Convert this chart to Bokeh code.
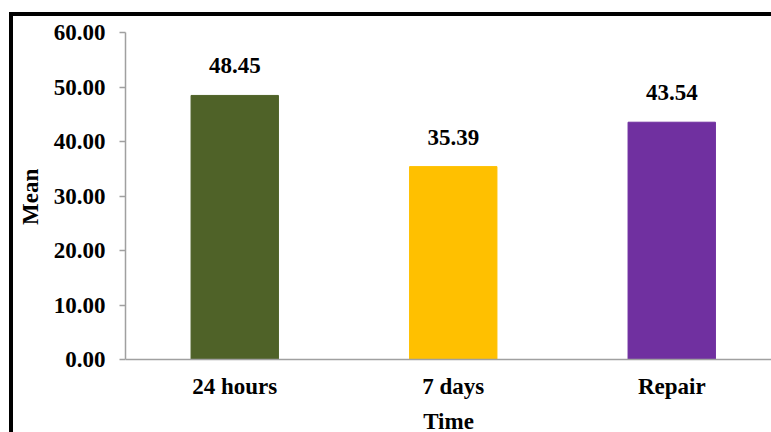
from bokeh.plotting import figure
from bokeh.models import (ColumnDataSource, Range1d, FixedTicker, LabelSet, LinearAxis,
                          Title, InlineStyleSheet)
from bokeh.embed import file_html
from bokeh.resources import INLINE

categories = ["24 hours", "7 days", "Repair"]
means = [48.45, 35.39, 43.54]
colors = ["#4F6228", "#FFC000", "#7030A0"]
y_ticks = [0, 10, 20, 30, 40, 50, 60]
x_title = "Time"
y_title = "Mean"

xs = [i + 1 for i in range(len(categories))]
src = ColumnDataSource(dict(x=xs, top=means, color=colors,
                            label=[f"{m:.2f}" for m in means]))

FONT = "Liberation Serif"
FS = "23px"

# layout in pixels: plot top 32, value-zero line at 359, canvas bottom 432
TOP, ZERO, H, W, LEFT = 32, 359, 432, 771, 125
YMAX = y_ticks[-1]
px_per_unit = (ZERO - TOP) / YMAX
ystart = YMAX - (H - TOP) / px_per_unit
cat_px = 218.5

p = figure(width=W, height=H, output_backend="svg", toolbar_location=None,
           x_range=Range1d(0.5, 0.5 + (W - LEFT) / cat_px), y_range=Range1d(ystart, YMAX),
           x_axis_location=None,
           min_border_left=LEFT, min_border_right=0, min_border_top=TOP, min_border_bottom=0)
p.outline_line_color = None
p.xgrid.grid_line_color = None
p.ygrid.grid_line_color = None
p.background_fill_color = "white"
p.border_fill_color = "white"

p.vbar(x="x", top="top", width=0.4, color="color", source=src)

labels = LabelSet(x="x", y="top", text="label", source=src, text_align="center",
                  text_baseline="alphabetic", y_offset=22, text_font=FONT,
                  text_font_style="bold", text_font_size=FS, text_color="black")
p.add_layout(labels)

ax = p.yaxis[0]
ax.bounds = (0, YMAX)
ax.ticker = FixedTicker(ticks=y_ticks)
ax.major_label_overrides = {t: f"{t:.2f}" for t in y_ticks}
ax.minor_tick_line_color = None
ax.major_tick_out = 6
ax.major_tick_in = 0
ax.axis_line_color = "#A0A0A0"
ax.major_tick_line_color = "#A0A0A0"
ax.axis_line_width = 1.5
ax.major_tick_line_width = 1.5
ax.major_label_text_font = FONT
ax.major_label_text_font_style = "bold"
ax.major_label_text_font_size = FS
ax.major_label_text_color = "black"
ax.major_label_standoff = 14

# y title, centred on the 0..60 span of the axis
ytitle = Title(text=y_title, align="left", offset=H - (TOP + ZERO) / 2 - 29,
               vertical_align="middle", text_font=FONT, text_font_style="bold",
               text_font_size=FS, text_color="black", standoff=14)
p.add_layout(ytitle, "left")

bx = LinearAxis(fixed_location=0)
bx.ticker = FixedTicker(ticks=xs)
bx.major_label_overrides = {x: c for x, c in zip(xs, categories)}
bx.minor_tick_line_color = None
bx.major_tick_line_color = None
bx.axis_line_color = "#A0A0A0"
bx.axis_line_width = 1.5
bx.major_label_text_font = FONT
bx.major_label_text_font_style = "bold"
bx.major_label_text_font_size = FS
bx.major_label_text_color = "black"
bx.major_label_standoff = 8
bx.axis_label = x_title
bx.axis_label_text_font = FONT
bx.axis_label_text_font_style = "bold"
bx.axis_label_text_font_size = FS
bx.axis_label_text_color = "black"
bx.axis_label_standoff = 7
p.add_layout(bx, "below")

p.stylesheets = [InlineStyleSheet(css="""
:host { position: relative; }
:host::after {
  content: ""; position: absolute; left: 9px; top: 12px; right: 0; bottom: 0;
  border-left: 4px solid black; border-top: 4px solid black;
  pointer-events: none; box-sizing: border-box;
}
""")]

open("out.html", "w").write(file_html(p, INLINE))
